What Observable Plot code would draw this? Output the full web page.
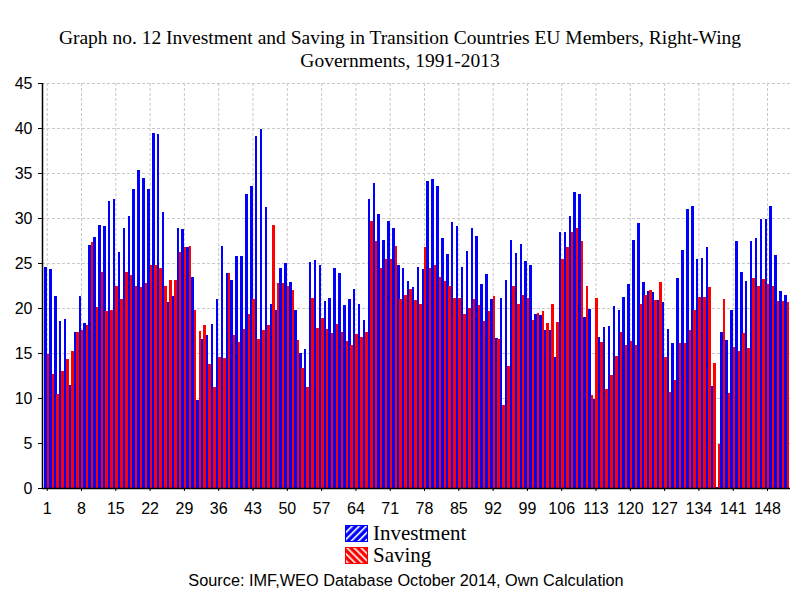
<!DOCTYPE html>
<html>
<head>
<meta charset="utf-8">
<script src="https://cdn.jsdelivr.net/npm/d3@7"></script>
<script src="https://cdn.jsdelivr.net/npm/@observablehq/plot@0.6"></script>
<style>
  html, body { margin: 0; padding: 0; background: #ffffff; }
  #wrap { position: relative; width: 790px; height: 590px; overflow: hidden; }
  .title { position: absolute; left: 0; width: 800px; text-align: center;
           font-family: "Liberation Serif", "Times New Roman", serif; font-size: 19.5px; line-height: 22px; color: #000; }
  #chart { position: absolute; left: 0; top: 75px; }
  .leg { position: absolute; left: 345px; height: 22px; display: flex; align-items: center;
         font-family: "Liberation Serif", "Times New Roman", serif; font-size: 21px; line-height: 22px; color: #000; }
  .leg svg { margin-right: 5px; }
  .source { position: absolute; left: 0; width: 812px; text-align: center; top: 570px;
            font-family: "Liberation Sans", Arial, sans-serif; font-size: 16.3px; line-height: 20px; color: #000; }
  #chart rect { shape-rendering: crispEdges; }
</style>
</head>
<body>
<div id="wrap">
  <div class="title" style="top:27px">Graph no. 12 Investment and Saving in Transition Countries EU Members, Right-Wing</div>
  <div class="title" style="top:50px">Governments, 1991-2013</div>
  <div id="chart"></div>
  <div class="leg" style="top:522px">
    <svg width="23" height="17"><defs><pattern id="hb" width="5" height="5" patternUnits="userSpaceOnUse" patternTransform="rotate(45)"><rect width="5" height="5" fill="#0000ff"/><rect width="1.6" height="5" fill="#ffffff"/></pattern></defs><rect x="0.5" y="0.5" width="22" height="16" fill="url(#hb)" stroke="#0000ff"/></svg>
    <span>Investment</span>
  </div>
  <div class="leg" style="top:544px">
    <svg width="23" height="17"><defs><pattern id="hr" width="5" height="5" patternUnits="userSpaceOnUse" patternTransform="rotate(-45)"><rect width="5" height="5" fill="#ff0000"/><rect width="1.6" height="5" fill="#ffffff"/></pattern></defs><rect x="0.5" y="0.5" width="22" height="16" fill="url(#hr)" stroke="#ff0000"/></svg>
    <span>Saving</span>
  </div>
  <div class="source">Source: IMF,WEO Database October 2014, Own Calculation</div>
</div>
<script>
// Observation index (1..152)
const observations = d3.range(1, 153);

// Investment (% of GDP)
const investment = [
  24.6, 24.3, 21.3, 18.6, 18.8, 11.5, 17.3, 21.3, 18.3, 27.0,
  27.9, 29.2, 29.1, 31.9, 32.1, 26.2, 28.9, 30.2, 33.2, 35.3,
  34.5, 33.2, 39.4, 39.3, 30.7, 20.7, 21.3, 28.9, 28.8, 26.8,
  23.5, 9.8, 16.6, 17.0, 18.2, 21.0, 26.9, 23.9, 23.1, 25.8,
  25.8, 32.7, 33.6, 39.1, 39.9, 31.2, 20.5, 19.8, 24.5, 25.0,
  22.9, 19.8, 15.0, 15.4, 25.1, 25.3, 24.8, 20.8, 21.1, 24.4,
  23.9, 20.3, 21.0, 22.1, 20.5, 18.7, 32.1, 33.9, 30.5, 27.6,
  29.7, 28.9, 24.8, 24.5, 23.0, 22.3, 24.6, 24.3, 34.1, 34.3,
  33.6, 27.8, 26.0, 29.6, 29.1, 24.6, 26.3, 28.9, 28.0, 22.7,
  23.8, 21.0, 16.7, 21.1, 23.1, 27.6, 26.1, 27.1, 25.2, 24.8,
  19.3, 19.2, 17.6, 17.6, 14.6, 28.5, 28.4, 30.2, 32.9, 32.7,
  19.0, 19.9, 9.9, 16.8, 17.9, 18.0, 20.2, 19.8, 21.2, 22.7,
  27.6, 29.4, 22.9, 21.9, 21.8, 20.9, 20.7, 17.7, 16.1, 23.3,
  26.5, 31.0, 31.3, 25.4, 25.6, 26.8, 11.3, 0.1, 17.3, 16.4,
  19.8, 27.5, 24.0, 23.0, 27.4, 27.8, 29.9, 29.9, 31.3, 25.9,
  21.9, 21.5
];

// Saving (% of GDP)
const saving = [
  14.9, 12.7, 10.5, 13.0, 14.3, 15.2, 17.3, 17.6, 18.1, 27.3,
  20.1, 24.0, 19.7, 19.8, 22.4, 21.0, 24.0, 23.7, 22.4, 22.3,
  22.8, 24.8, 24.8, 24.5, 22.5, 23.1, 23.1, 26.2, 26.8, 26.9,
  19.8, 17.4, 18.1, 13.8, 11.2, 14.6, 14.4, 23.9, 17.0, 16.2,
  17.7, 19.3, 21.0, 16.6, 17.6, 18.1, 29.2, 22.8, 22.8, 22.5,
  22.0, 16.4, 13.3, 11.2, 21.1, 17.8, 18.9, 17.7, 17.2, 18.2,
  17.3, 16.3, 15.9, 17.1, 16.8, 17.3, 29.7, 27.4, 24.4, 25.5,
  25.4, 26.9, 21.0, 21.5, 22.1, 20.9, 20.5, 26.8, 24.5, 24.8,
  23.4, 23.0, 22.5, 21.1, 21.1, 19.3, 20.0, 21.0, 20.3, 18.6,
  19.7, 21.3, 16.6, 9.2, 13.6, 22.5, 20.5, 21.4, 21.1, 18.7,
  19.5, 19.7, 18.3, 20.5, 18.4, 25.4, 26.8, 28.5, 28.9, 27.4,
  22.5, 10.3, 21.1, 16.2, 11.0, 12.6, 14.7, 17.3, 15.9, 16.3,
  15.9, 20.4, 21.4, 22.0, 20.9, 22.9, 14.6, 10.7, 12.0, 16.1,
  16.1, 17.6, 19.8, 21.2, 21.2, 22.3, 13.9, 4.9, 21.0, 10.6,
  15.7, 15.2, 17.2, 15.6, 23.3, 22.5, 23.2, 22.7, 22.4, 20.8,
  20.8, 20.7
];

// Tick labels
const xTicks = d3.range(1, 153, 7);       // 1, 8, 15, ..., 148
const yTicks = d3.range(0, 46, 5);        // 0 .. 45
const yGrid = d3.range(5, 46, 5);

const rows = observations.map((o, k) => ({ obs: o, inv: investment[k], sav: saving[k] }));
const xDomain = [0.04, 152.69];

const chart = Plot.plot({
  width: 790,
  height: 445,
  marginLeft: 42,
  marginRight: 0,
  marginTop: 8,
  marginBottom: 32,
  style: { fontFamily: "'Liberation Sans', Arial, sans-serif", fontSize: "16px", background: "transparent", color: "#000" },
  x: { type: "linear", domain: xDomain },
  y: { domain: [0, 45] },
  marks: [
    Plot.gridY(yGrid, { stroke: "#c8c8c8", strokeOpacity: 1, strokeDasharray: "3,2" }),
    Plot.gridX(xTicks, { stroke: "#c8c8c8", strokeOpacity: 1, strokeDasharray: "3,2" }),
    Plot.rectY(rows, { x1: d => d.obs - 0.5, x2: d => d.obs, y: "inv", fill: "#0000ff" }),
    Plot.rectY(rows, { x1: d => d.obs - 0.02, x2: d => d.obs + 0.5, y: "sav", fill: "#ff0000" }),
    Plot.ruleX([xDomain[0]], { stroke: "#000", strokeWidth: 1.5 }),
    Plot.ruleY([0], { stroke: "#000", strokeWidth: 1.5 }),
    Plot.axisY(yTicks, { tickSize: 4, tickPadding: 6, fontSize: 16, label: null }),
    Plot.axisX(xTicks, { tickSize: 3, tickPadding: 11, fontSize: 16, label: null, tickFormat: d => String(d) })
  ]
});
document.getElementById("chart").appendChild(chart);
</script>
</body>
</html>
